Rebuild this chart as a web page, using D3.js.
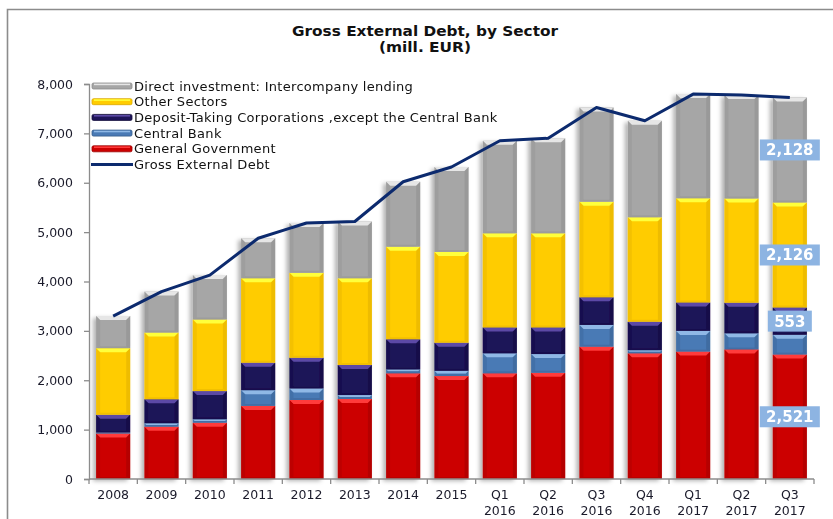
<!DOCTYPE html>
<html>
<head>
<meta charset="utf-8">
<script src="https://cdn.jsdelivr.net/npm/d3@7"></script>
<style>
  body { margin: 0; background: #fff; }
  svg { display: block; }
</style>
</head>
<body>
<svg id="chart" width="833" height="519"></svg>
<script>
// Gross external debt by sector, million EUR
const categories = ["2008", "2009", "2010", "2011", "2012", "2013", "2014", "2015",
  "Q1\n2016", "Q2\n2016", "Q3\n2016", "Q4\n2016", "Q1\n2017", "Q2\n2017", "Q3\n2017"];
const generalGovernment = [920, 1060, 1140, 1480, 1600, 1620, 2140, 2085, 2140, 2150, 2680, 2545, 2580, 2625, 2521];
const centralBank       = [20, 70, 70, 320, 235, 80, 80, 105, 405, 380, 440, 65, 420, 325, 400];
const depositTaking     = [360, 485, 570, 555, 620, 610, 610, 570, 525, 540, 560, 575, 575, 620, 553];
const otherSectors      = [1350, 1350, 1450, 1710, 1720, 1755, 1875, 1840, 1905, 1905, 1935, 2115, 2110, 2110, 2126];
const directInvestment  = [650, 830, 900, 810, 1010, 1150, 1315, 1720, 1875, 1925, 1910, 1955, 2110, 2095, 2128];
const grossExternalDebt = [3300, 3795, 4130, 4875, 5185, 5215, 6020, 6320, 6850, 6900, 7525, 7255, 7795, 7775, 7728];
const yTicks = [0, 1000, 2000, 3000, 4000, 5000, 6000, 7000, 8000];

// Stack order bottom -> top
const series = [
  { key: "gg",  name: "General Government", values: generalGovernment, fill: "#cc0000", light: "#ff3b3b", dark: "#9a0000" },
  { key: "cb",  name: "Central Bank", values: centralBank, fill: "#4a7ab5", light: "#8fb8e6", dark: "#335a8a" },
  { key: "dtc", name: "Deposit-Taking Corporations ,except the Central Bank", values: depositTaking, fill: "#1e1458", light: "#5b4aa6", dark: "#120b3a" },
  { key: "oth", name: "Other Sectors", values: otherSectors, fill: "#ffcc00", light: "#ffff3a", dark: "#d9a800" },
  { key: "di",  name: "Direct investment: Intercompany lending", values: directInvestment, fill: "#a6a6a6", light: "#e6e6e6", dark: "#8a8a8a" }
];
// Segments labelled on the last period
const labelledKeys = ["gg", "dtc", "oth", "di"];

const svg = d3.select("#chart");
const font = "'DejaVu Sans', Verdana, sans-serif";

const x = d3.scaleBand().domain(categories).range([89, 814]).paddingInner(0.295).paddingOuter(0.1475);
const y = d3.scaleLinear().domain([0, 8000]).range([479, 84]);

// Frame
svg.append("path")
  .attr("d", "M7.5,519 L7.5,9.5 L833,9.5")
  .attr("fill", "none").attr("stroke", "#8c8c8c").attr("stroke-width", 1.6);

// Title
const title = svg.append("text").attr("x", 425).attr("y", 36)
  .attr("text-anchor", "middle").attr("font-family", font)
  .attr("font-weight", "bold").attr("font-size", 14).attr("fill", "#111");
title.append("tspan").attr("x", 425).attr("textLength", 266).attr("lengthAdjust", "spacingAndGlyphs").text("Gross External Debt, by Sector");
title.append("tspan").attr("x", 425).attr("dy", 16).attr("textLength", 92).attr("lengthAdjust", "spacingAndGlyphs").text("(mill.  EUR)");

// Shadow for the bars
const defs = svg.append("defs");
const filt = defs.append("filter").attr("id", "shadow")
  .attr("x", "-30%").attr("y", "-10%").attr("width", "160%").attr("height", "120%");
filt.append("feDropShadow").attr("dx", -3).attr("dy", 2).attr("stdDeviation", 2)
  .attr("flood-color", "#000").attr("flood-opacity", 0.3);

// Stack data
const rows = categories.map((c, i) => {
  const r = { cat: c };
  series.forEach(s => r[s.key] = s.values[i]);
  return r;
});
const stack = d3.stack().keys(series.map(s => s.key))(rows);

const barsG = svg.append("g").attr("filter", "url(#shadow)");
stack.forEach((layer, li) => {
  const s = series[li];
  const g = barsG.append("g");
  layer.forEach(d => {
    const x0 = x(d.data.cat), w = x.bandwidth();
    const yTop = y(d[1]), yBot = y(d[0]);
    const h = yBot - yTop;
    if (h <= 0) return;
    g.append("rect").attr("x", x0).attr("y", yTop).attr("width", w).attr("height", h).attr("fill", s.fill);
    const b = Math.min(4, h / 2);
    const bb = Math.min(2, h / 2);
    // top bevel
    g.append("path").attr("d", `M${x0},${yTop} L${x0 + w},${yTop} L${x0 + w - b},${yTop + b} L${x0 + b},${yTop + b} Z`)
      .attr("fill", s.light);
    // side and bottom bevels
    g.append("path").attr("d", `M${x0},${yTop} L${x0 + b},${yTop + b} L${x0 + b},${yBot - bb} L${x0},${yBot} Z`)
      .attr("fill", s.dark).attr("opacity", 0.3);
    g.append("path").attr("d", `M${x0 + w},${yTop} L${x0 + w - b},${yTop + b} L${x0 + w - b},${yBot - bb} L${x0 + w},${yBot} Z`)
      .attr("fill", s.dark).attr("opacity", 0.45);
    g.append("path").attr("d", `M${x0},${yBot} L${x0 + b},${yBot - bb} L${x0 + w - b},${yBot - bb} L${x0 + w},${yBot} Z`)
      .attr("fill", s.dark).attr("opacity", 0.35);
  });
});

// Axes
const axisColor = "#8c8c8c";
const yAxis = svg.append("g").attr("transform", "translate(89,0)")
  .call(d3.axisLeft(y).tickValues(yTicks).tickSize(5).tickPadding(11).tickFormat(d3.format(",")));
yAxis.select(".domain").attr("stroke", axisColor).attr("stroke-width", 1.3);
yAxis.selectAll(".tick line").attr("stroke", axisColor).attr("stroke-width", 1.3);
yAxis.selectAll(".tick text").attr("font-family", font).attr("font-size", 12.5).attr("fill", "#1a1a2a");

const xAxisG = svg.append("g");
xAxisG.append("line").attr("x1", 89).attr("x2", 814).attr("y1", y(0)).attr("y2", y(0))
  .attr("stroke", axisColor).attr("stroke-width", 1.3);
d3.range(categories.length + 1).forEach(i => {
  const tx = 89 + x.step() * i;
  xAxisG.append("line").attr("x1", tx).attr("x2", tx).attr("y1", y(0)).attr("y2", y(0) + 5)
    .attr("stroke", axisColor).attr("stroke-width", 1.3);
});
categories.forEach(c => {
  const cx = x(c) + x.bandwidth() / 2;
  const t = xAxisG.append("text").attr("text-anchor", "middle").attr("font-family", font)
    .attr("font-size", 12.5).attr("fill", "#1a1a2a");
  c.split("\n").forEach((part, k) => {
    t.append("tspan").attr("x", cx).attr("y", 499 + k * 15.5).text(part);
  });
});

// Total line
const line = d3.line().x((d, i) => x(categories[i]) + x.bandwidth() / 2).y(d => y(d));
svg.append("path").datum(grossExternalDebt).attr("d", line)
  .attr("fill", "none").attr("stroke", "#0c2a6e").attr("stroke-width", 3).attr("stroke-linejoin", "round");

// Value labels on the last period
const lastIdx = categories.length - 1;
const lastCat = categories[lastIdx];
labelledKeys.forEach(k => {
  const li = series.findIndex(s => s.key === k);
  const seg = stack[li][lastIdx];
  const cy = y((seg[0] + seg[1]) / 2);
  const cx = x(lastCat) + x.bandwidth() / 2;
  const txt = d3.format(",")(series[li].values[lastIdx]);
  const bw = txt.length > 3 ? 60 : 44;
  svg.append("rect").attr("x", cx - bw / 2).attr("y", cy - 10.5).attr("width", bw).attr("height", 21)
    .attr("fill", "#8db4e2");
  svg.append("text").attr("x", cx).attr("y", cy + 5.5).attr("text-anchor", "middle")
    .attr("font-family", font).attr("font-weight", "bold").attr("font-size", 15)
    .attr("fill", "#fff").text(txt);
});

// Legend (top row is the last stacked series)
const legendItems = series.slice().reverse().map(s => ({ name: s.name, fill: s.fill, light: s.light, dark: s.dark, type: "bar" }))
  .concat([{ name: "Gross External Debt", fill: "#0c2a6e", type: "line" }]);
const lg = svg.append("g");
legendItems.forEach((it, i) => {
  const ly = 86 + i * 15.7;
  if (it.type === "bar") {
    lg.append("rect").attr("x", 92).attr("y", ly - 3).attr("width", 40).attr("height", 6).attr("rx", 1.5)
      .attr("fill", it.fill).attr("stroke", it.dark).attr("stroke-width", 0.8);
    lg.append("rect").attr("x", 94).attr("y", ly - 2.4).attr("width", 36).attr("height", 1.6)
      .attr("fill", it.light);
  } else {
    lg.append("line").attr("x1", 91).attr("x2", 133).attr("y1", ly).attr("y2", ly)
      .attr("stroke", it.fill).attr("stroke-width", 3);
  }
  lg.append("text").attr("x", 134).attr("y", ly + 4.5).attr("font-family", font)
    .attr("font-size", 13).attr("letter-spacing", 0.3).attr("fill", "#111").text(it.name);
});
</script>
</body>
</html>
